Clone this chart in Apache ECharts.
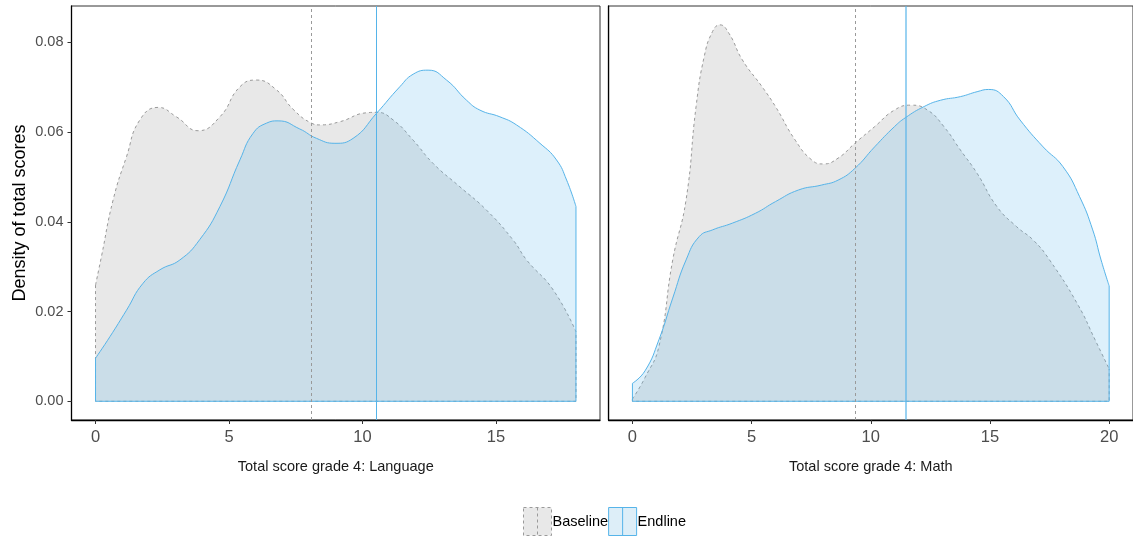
<!DOCTYPE html>
<html>
<head>
<meta charset="utf-8">
<script src="https://cdn.jsdelivr.net/npm/echarts@6/dist/echarts.min.js"></script>
<style>
  html, body { margin: 0; padding: 0; background: #fff; }
  #chart { width: 1133px; height: 541px; }
</style>
</head>
<body>
<div id="chart"></div>
<script>
// Density of total scores, grade 4, baseline vs endline
const FONT = "'Liberation Sans', Arial, Helvetica, sans-serif";

const panelTitles = ['Total score grade 4: Language', 'Total score grade 4: Math'];
const yTitle = 'Density of total scores';
const seriesNames = ['Baseline', 'Endline'];

const langTicks = [0, 5, 10, 15];
const mathTicks = [0, 5, 10, 15, 20];
const densityTicks = [0, 0.02, 0.04, 0.06, 0.08];

// [score, density] pairs
const langBaseline = [
  [0, 0.0259], [0.22, 0.0322], [0.66, 0.0449], [1.16, 0.0545], [1.66, 0.0627],
  [2.35, 0.0655], [3.03, 0.0634], [3.84, 0.0603], [4.66, 0.0634], [5.41, 0.0701],
  [6.03, 0.0716], [6.78, 0.0694], [7.40, 0.0651], [8.09, 0.0620], [8.40, 0.0616],
  [9.15, 0.0623], [10.15, 0.0643], [10.53, 0.0644], [11.15, 0.0627], [11.90, 0.0582],
  [12.65, 0.0530], [13.65, 0.0478], [14.65, 0.0426], [15.65, 0.0359], [16.15, 0.0315],
  [17.15, 0.0248], [18.0, 0.0155]
];
const langEndline = [
  [0, 0.0096], [0.54, 0.0144], [1.16, 0.0203], [1.78, 0.0263], [2.41, 0.0293],
  [3.16, 0.0315], [3.90, 0.0360], [4.66, 0.0434], [5.41, 0.0538], [5.90, 0.0597],
  [6.41, 0.0620], [6.84, 0.0625], [7.65, 0.0607], [8.28, 0.0586], [8.97, 0.0575],
  [9.65, 0.0586], [10.53, 0.0642], [11.40, 0.0701], [11.90, 0.0729], [12.46, 0.0738],
  [13.15, 0.0716], [13.90, 0.0671], [14.40, 0.0649], [15.15, 0.0634], [15.77, 0.0616],
  [16.65, 0.0575], [17.27, 0.0538], [17.65, 0.0493], [18.0, 0.0434]
];
const mathBaseline = [
  [0, 0.0005], [0.53, 0.0053], [1.11, 0.0122], [1.69, 0.0315], [2.25, 0.0449],
  [2.67, 0.0657], [3.01, 0.0768], [3.36, 0.0824], [3.67, 0.0839], [4.05, 0.0820],
  [4.61, 0.0761], [5.44, 0.0701], [6.00, 0.0657], [6.83, 0.0582], [7.52, 0.0538],
  [8.01, 0.0529], [8.63, 0.0542], [9.33, 0.0575], [10.16, 0.0612], [10.99, 0.0649],
  [11.68, 0.0660], [12.38, 0.0649], [13.07, 0.0612], [13.76, 0.0560], [14.46, 0.0508],
  [15.29, 0.0434], [16.12, 0.0389], [16.82, 0.0359], [17.50, 0.0315], [18.69, 0.0215],
  [19.41, 0.0137], [20.0, 0.0072]
];
const mathEndline = [
  [0, 0.0040], [0.53, 0.0068], [1.11, 0.0137], [1.69, 0.0230], [2.25, 0.0315],
  [2.80, 0.0367], [3.36, 0.0382], [4.19, 0.0397], [5.16, 0.0419], [6.00, 0.0445],
  [6.97, 0.0471], [7.94, 0.0482], [8.63, 0.0493], [9.33, 0.0519], [10.16, 0.0567],
  [10.99, 0.0612], [11.45, 0.0632], [12.24, 0.0657], [12.93, 0.0671], [13.76, 0.0679],
  [14.46, 0.0690], [14.94, 0.0695], [15.57, 0.0679], [16.26, 0.0627], [17.23, 0.0567],
  [18.06, 0.0523], [18.76, 0.0456], [19.31, 0.0382], [19.66, 0.0315], [20.0, 0.0257]
];

// group means (vertical reference lines)
const langMeans = [8.09, 10.53];
const mathMeans = [9.35, 11.45];

const GREY_LINE = '#9a9a9a';
const GREY_FILL = '#e8e8e8';
const BLUE = '#56B4E9';
const BLUE_FILL = 'rgba(86,180,233,0.2)';
const DASH = [3, 3];

// closing outline of a density polygon: down to zero at both ends and along the base
function outline(pts) {
  const first = pts[0], last = pts[pts.length - 1];
  return [[first[0], first[1]], [first[0], 0], [last[0], 0], [last[0], last[1]]];
}

function panelSeries(idx, base, end, means, meanStyle) {
  const common = { type: 'line', xAxisIndex: idx, yAxisIndex: idx, symbol: 'none', silent: true };
  return [
    Object.assign({}, common, {
      name: seriesNames[0], data: base, smooth: 0.5, z: 2,
      lineStyle: { color: GREY_LINE, width: 1, type: DASH },
      areaStyle: { color: GREY_FILL, opacity: 1 },
      markLine: {
        silent: true, symbol: 'none', z: 6, label: { show: false },
        lineStyle: { color: GREY_LINE, width: 1, type: DASH },
        data: [{ xAxis: means[0] }]
      }
    }),
    Object.assign({}, common, {
      name: seriesNames[0], data: outline(base), z: 3,
      lineStyle: { color: GREY_LINE, width: 1, type: DASH }
    }),
    Object.assign({}, common, {
      name: seriesNames[1], data: end, smooth: 0.5, z: 4,
      lineStyle: { color: BLUE, width: 1 },
      areaStyle: { color: BLUE_FILL, opacity: 1 },
      markLine: {
        silent: true, symbol: 'none', z: 6, label: { show: false },
        lineStyle: Object.assign({ type: 'solid' }, meanStyle),
        data: [{ xAxis: means[1] }]
      }
    }),
    Object.assign({}, common, {
      name: seriesNames[1], data: outline(end), z: 5,
      lineStyle: { color: BLUE, width: 1 }
    })
  ];
}

function xAxisFor(idx, ticks, maxVal, title) {
  const pad = maxVal * 0.05;
  return {
    type: 'value', gridIndex: idx, min: -pad, max: maxVal + pad,
    splitLine: { show: false },
    axisLine: { show: true, onZero: false, lineStyle: { color: '#000', width: 1.3 } },
    axisTick: { show: true, customValues: ticks, length: 4, lineStyle: { color: '#333', width: 1 } },
    axisLabel: { customValues: ticks, fontSize: 16.5, color: '#4d4d4d', margin: 9, fontFamily: FONT },
    name: title, nameLocation: 'middle', nameGap: 39,
    nameTextStyle: { fontSize: 14.5, color: '#1a1a1a', fontFamily: FONT }
  };
}

function yAxisFor(idx, withLabels) {
  return {
    type: 'value', gridIndex: idx, min: -0.00417, max: 0.0881,
    splitLine: { show: false },
    axisLine: { show: true, onZero: false, lineStyle: { color: '#000', width: 1.3 } },
    axisTick: { show: withLabels, customValues: densityTicks, length: 4, lineStyle: { color: '#333', width: 1 } },
    axisLabel: {
      show: withLabels, customValues: densityTicks, fontSize: 14.5, color: '#4d4d4d', margin: 8,
      fontFamily: FONT, formatter: v => v.toFixed(2)
    },
    name: withLabels ? yTitle : '', nameLocation: 'middle', nameGap: 42,
    nameTextStyle: { fontSize: 18, color: '#000', fontFamily: FONT }
  };
}

const keyIcon = 'path://M0,0L28,0L28,28L0,28Z M14,0L14,28';

const option = {
  animation: false,
  backgroundColor: '#fff',
  textStyle: { fontFamily: FONT },
  grid: [
    { left: 71.5, top: 6, width: 528.5, height: 414, show: true, borderColor: '#333', borderWidth: 1, containLabel: false },
    { left: 608.6, top: 6, width: 528.6, height: 414, show: true, borderColor: '#333', borderWidth: 1, containLabel: false }
  ],
  xAxis: [
    xAxisFor(0, langTicks, 18, panelTitles[0]),
    xAxisFor(1, mathTicks, 20, panelTitles[1])
  ],
  yAxis: [yAxisFor(0, true), yAxisFor(1, false)],
  legend: {
    left: 523, top: 507, padding: 0, itemGap: 0,
    itemWidth: 28, itemHeight: 28,
    textStyle: { fontSize: 14.5, color: '#000', fontFamily: FONT, padding: [0, 0, 0, -4] },
    data: [
      { name: seriesNames[0], icon: keyIcon,
        itemStyle: { color: GREY_FILL, borderColor: GREY_LINE, borderWidth: 1, borderType: DASH } },
      { name: seriesNames[1], icon: keyIcon,
        itemStyle: { color: '#ddeef8', borderColor: BLUE, borderWidth: 1, borderType: 'solid' } }
    ]
  },
  series: [].concat(
    panelSeries(0, langBaseline, langEndline, langMeans, { color: BLUE, width: 1 }),
    panelSeries(1, mathBaseline, mathEndline, mathMeans, { color: 'rgba(86,180,233,0.6)', width: 2 })
  )
};

const chart = echarts.init(document.getElementById('chart'), null, { renderer: 'canvas' });
chart.setOption(option);
</script>
</body>
</html>
